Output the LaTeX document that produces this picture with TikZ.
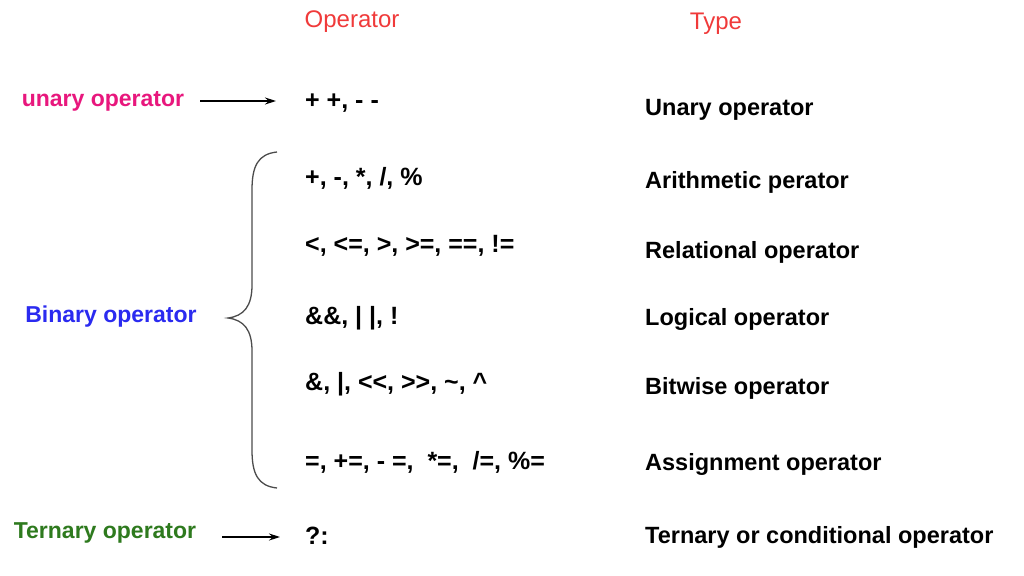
\documentclass[tikz,border=0pt]{standalone}
\usepackage{fontspec}
\setmainfont{Liberation Sans}
\usetikzlibrary{arrows.meta}
\definecolor{hdr}{HTML}{F03A3A}
\definecolor{mag}{HTML}{E8177D}
\definecolor{blu}{HTML}{2B2BF0}
\definecolor{grn}{HTML}{2E7A1E}
\tikzset{
  x=1pt,y=-1pt,
  txt/.style={anchor=west,inner sep=0pt,font=\fontsize{23.5}{26}\selectfont\bfseries},
  optxt/.style={anchor=west,inner sep=0pt,font=\fontsize{25}{28}\selectfont\bfseries},
  head/.style={inner sep=0pt,text=hdr,font=\fontsize{24}{26}\selectfont},
  lab/.style={inner sep=0pt,font=\fontsize{23}{26}\selectfont\bfseries},
  arr/.style={-{Stealth[length=11pt,width=7pt]},line width=1.3pt}
}
\begin{document}
\begin{tikzpicture}
\useasboundingbox[fill=white] (0,0) rectangle (1024,575);
\node[head] (h1) at (352,22) {Operator};
\node[head] (h2) at (716,24) {Type};
\node[lab,text=mag] (un) at (103,101) {unary operator};
\node[lab,text=blu] (bin) at (111,317) {Binary operator};
\node[lab,text=grn] (ter) at (105,533) {Ternary operator};
\node[optxt] (o1) at (305,103) {+ +, - -};
\node[optxt] (o2) at (305,178) {+, -, *, /, \%};
\node[optxt] (o3) at (305,246) {<, <=, >, >=, ==, !=};
\node[optxt] (o4) at (305,318) {\&\&, | |, !};
\node[optxt] (o5) at (305,384) {\&, |, {<}{<}, {>}{>}, \textasciitilde, \textasciicircum};
\node[optxt] (o6) at (305,462) {=, +=, - =,\ \ *=,\ \ /=, \%=};
\node[optxt] (o7) at (305,536) {?:};
\node[txt] (t1) at (645,110) {Unary operator};
\node[txt] (t2) at (645,182) {Arithmetic perator};
\node[txt] (t3) at (645,252) {Relational operator};
\node[txt] (t4) at (645,319) {Logical operator};
\node[txt] (t5) at (645,388) {Bitwise operator};
\node[txt] (t6) at (645,464) {Assignment operator};
\node[txt] (t7) at (645,537) {Ternary or conditional operator};
\coordinate (a1) at (200,101);
\coordinate (a2) at (276,101);
\coordinate (b1) at (222,537);
\coordinate (b2) at (280,537);
\draw[arr] (a1) -- (a2);
\draw[arr] (b1) -- (b2);
\draw[line width=1.3pt,gray!60!black] (277,152) .. controls (258,154) and (252,166) .. (252,190)
  -- (252,285) .. controls (252,306) and (244,316) .. (228,318)
  .. controls (244,320) and (252,330) .. (252,351)
  -- (252,450) .. controls (252,474) and (258,486) .. (277,488);
\end{tikzpicture}
\end{document}
